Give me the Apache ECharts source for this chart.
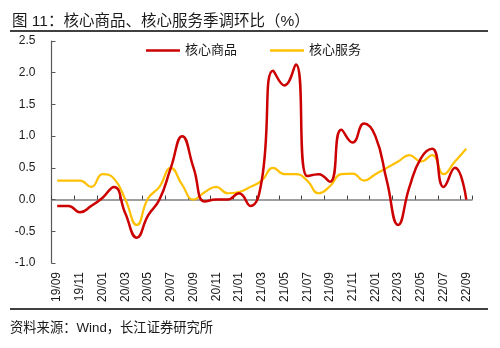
<!DOCTYPE html>
<html>
<head>
<meta charset="utf-8">
<script src="https://cdn.jsdelivr.net/npm/echarts@6/dist/echarts.min.js"></script>
<style>html,body{margin:0;padding:0;background:#fff}#c{width:500px;height:348px}</style>
</head>
<body>
<div id="c"></div>
<script>
var categories = ['19/09','19/10','19/11','19/12','20/01','20/02','20/03','20/04','20/05','20/06','20/07','20/08','20/09','20/10','20/11','20/12','21/01','21/02','21/03','21/04','21/05','21/06','21/07','21/08','21/09','21/10','21/11','21/12','22/01','22/02','22/03','22/04','22/05','22/06','22/07','22/08','22/09'];
var coreGoods = [-0.1,-0.1,-0.2,-0.1,0.03,0.2,-0.22,-0.6,-0.25,0.0,0.5,1.0,0.5,-0.03,0.0,0.0,0.1,-0.1,0.3,2.03,1.8,2.13,0.37,0.4,0.28,1.1,0.9,1.2,1.0,0.3,-0.4,0.2,0.65,0.8,0.2,0.5,0.0];
var coreServices = [0.3,0.3,0.3,0.2,0.4,0.33,0.0,-0.4,0.02,0.2,0.5,0.23,0.0,0.12,0.2,0.1,0.12,0.2,0.3,0.5,0.4,0.4,0.3,0.1,0.21,0.4,0.41,0.3,0.4,0.5,0.6,0.7,0.6,0.7,0.4,0.6,0.8];
var seriesNames = ['核心商品','核心服务'];
var seriesColors = ['#CC0000','#FFC000'];
var titleText = '图 11：核心商品、核心服务季调环比（%）';
var sourceText = '资料来源：Wind，长江证券研究所';

var FONT = '"Liberation Sans", Arial, "Noto Sans CJK SC", sans-serif';
var chart = echarts.init(document.getElementById('c'));
chart.setOption({
  animation: false,
  backgroundColor: '#fff',
  textStyle: { fontFamily: FONT },
  title: {
    text: titleText, left: 7, top: 9,
    textStyle: { fontSize: 15.5, fontWeight: 'normal', color: '#1a1a1a', fontFamily: FONT }
  },
  graphic: [
    { type: 'line', shape: { x1: 10, y1: 31, x2: 488, y2: 31 }, style: { stroke: '#000', lineWidth: 1.5 } },
    { type: 'line', shape: { x1: 10, y1: 309, x2: 488, y2: 309 }, style: { stroke: '#000', lineWidth: 1.5 } },
    { type: 'text', left: 10, top: 322, style: { text: sourceText, fill: '#1a1a1a', font: '13.3px ' + FONT } }
  ],
  legend: {
    left: 141, top: 39, itemWidth: 34, itemHeight: 2.5, itemGap: 33,
    textStyle: { fontSize: 13, color: '#1a1a1a', fontFamily: FONT, padding: [0, 0, 0, 0] },
    data: [
      { name: seriesNames[0], icon: 'rect', itemStyle: { color: seriesColors[0] } },
      { name: seriesNames[1], icon: 'rect', itemStyle: { color: seriesColors[1] } }
    ]
  },
  grid: { left: 51.5, right: 28, top: 41, bottom: 85 },
  xAxis: [
    {
      type: 'category', data: categories, boundaryGap: true, position: 'bottom',
      axisLine: { show: false, onZero: false }, axisTick: { show: false },
      axisLabel: { interval: 1, rotate: 90, margin: 9, fontSize: 12, color: '#1a1a1a', fontFamily: FONT }
    },
    {
      type: 'category', data: categories, boundaryGap: true, position: 'bottom',
      axisLine: { show: true, onZero: true, lineStyle: { color: '#808080', width: 1.5 } },
      axisTick: { show: true, inside: true, interval: 1, length: 4, lineStyle: { color: '#404040', width: 1 } },
      axisLabel: { show: false }
    }
  ],
  yAxis: {
    type: 'value', min: -1, max: 2.5, interval: 0.5,
    axisLine: { show: true, lineStyle: { color: '#595959', width: 1.2 } },
    axisTick: { show: true, inside: true, length: 4, lineStyle: { color: '#595959' } },
    splitLine: { show: false },
    axisLabel: { margin: 16, fontSize: 12, color: '#1a1a1a', fontFamily: FONT, formatter: function (v) { return v.toFixed(1); } }
  },
  series: [
    {
      name: seriesNames[0], type: 'line', data: coreGoods, xAxisIndex: 1, smooth: 0.5,
      symbol: 'none', lineStyle: { color: seriesColors[0], width: 2.5 }, itemStyle: { color: seriesColors[0] }, z: 3
    },
    {
      name: seriesNames[1], type: 'line', data: coreServices, xAxisIndex: 1, smooth: 0.5,
      symbol: 'none', lineStyle: { color: seriesColors[1], width: 2.2 }, itemStyle: { color: seriesColors[1] }, z: 2
    }
  ]
});
</script>
</body>
</html>
